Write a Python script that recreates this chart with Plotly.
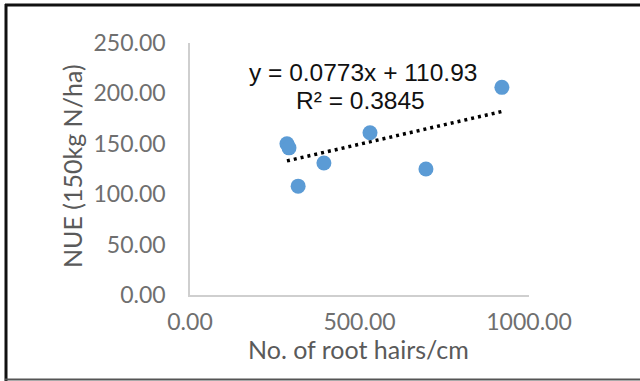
import plotly.graph_objects as go

# Root hair density vs. nitrogen use efficiency
root_hairs = [920, 531, 286, 292, 395, 319, 696]
nue = [206, 161, 150, 146, 131, 108, 125]

# Linear trendline coefficients and fit quality
slope = 0.0773
intercept = 110.93
r_squared = 0.3845

x_ticks = [0, 500, 1000]
y_ticks = [0, 50, 100, 150, 200, 250]

x_title = "No. of root hairs/cm"
y_title = "NUE (150kg N/ha)"

W, H = 640, 381
L, R, T, B = 190, 111, 43, 86
PW, PH = W - L - R, H - T - B


def px(x):
    return (x - L) / PW


def py(y):
    return (H - B - y) / PH


x_fit = [min(root_hairs), max(root_hairs)]
y_fit = [slope * v + intercept for v in x_fit]

fig = go.Figure()
fig.add_trace(go.Scatter(
    x=x_fit, y=y_fit, mode="lines",
    line=dict(color="black", width=3.5, dash="3px,4px"),
    hoverinfo="skip", showlegend=False,
))
fig.add_trace(go.Scatter(
    x=root_hairs, y=nue, mode="markers",
    marker=dict(color="#5B9BD5", size=15, line=dict(width=0)),
    showlegend=False,
))

tick_font = dict(family="Lato, sans-serif", size=23, color="#6f6f6f")
title_font = dict(family="Lato, sans-serif", size=25, color="#5a5a5a")

fig.update_xaxes(
    range=[0, 1000], tickvals=x_ticks,
    ticktext=[f"{v:.2f}" for v in x_ticks],
    showgrid=False, zeroline=False, showline=True,
    linecolor="#cfcfcf", linewidth=1.5, ticks="",
    ticklabelstandoff=6, tickfont=tick_font,
    automargin=False,
)
fig.update_yaxes(
    range=[0, 250], tickvals=y_ticks,
    ticktext=[f"{v:.2f}" for v in y_ticks],
    showgrid=False, zeroline=False, showline=True,
    linecolor="#cfcfcf", linewidth=1.5, ticks="",
    ticklabelstandoff=18, tickfont=tick_font,
    automargin=False,
)

# Axis titles sit close to the tick labels
fig.add_annotation(
    x=px(358), y=py(349), xref="paper", yref="paper",
    text=x_title, showarrow=False, font=title_font,
    xanchor="center", yanchor="middle",
)
fig.add_annotation(
    x=px(72), y=py(166), xref="paper", yref="paper",
    text=y_title, showarrow=False, font=title_font, textangle=-90,
    xanchor="center", yanchor="middle",
)

eq_font = dict(family="Liberation Sans, Arial, sans-serif", size=24.5, color="#111111")
fig.add_annotation(
    x=px(363), y=py(72), xref="paper", yref="paper",
    text=f"y = {slope}x + {intercept}", showarrow=False,
    font=eq_font, xanchor="center", yanchor="middle",
)
fig.add_annotation(
    x=px(360), y=py(100), xref="paper", yref="paper",
    text=f"R² = {r_squared}", showarrow=False,
    font=eq_font, xanchor="center", yanchor="middle",
)

# Frame around the chart
fig.add_shape(type="line", xref="paper", yref="paper",
              x0=px(5), x1=px(642), y0=py(5), y1=py(5),
              line=dict(color="#111111", width=3))
fig.add_shape(type="line", xref="paper", yref="paper",
              x0=px(6), x1=px(6), y0=py(4), y1=py(381),
              line=dict(color="#111111", width=3))
fig.add_shape(type="line", xref="paper", yref="paper",
              x0=px(5), x1=px(642), y0=py(379.5), y1=py(379.5),
              line=dict(color="#555555", width=2))

fig.update_layout(
    width=W, height=H,
    margin=dict(l=L, r=R, t=T, b=B),
    paper_bgcolor="white", plot_bgcolor="white",
    showlegend=False,
)

fig.write_html("out.html")
